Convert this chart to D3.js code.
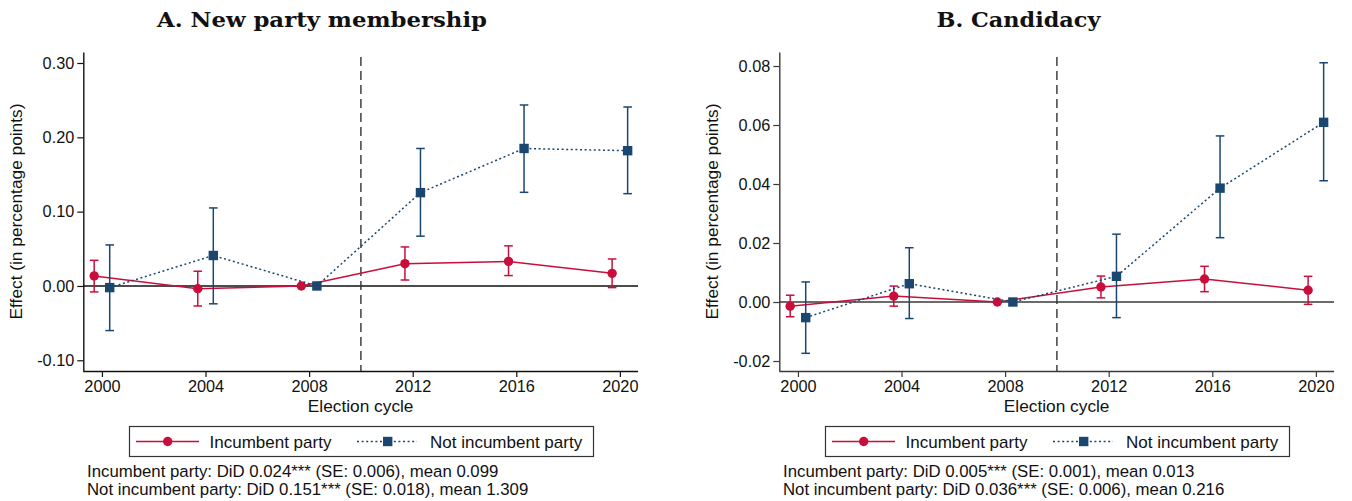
<!DOCTYPE html>
<html>
<head>
<meta charset="utf-8">
<script src="https://cdn.jsdelivr.net/npm/d3@7"></script>
<style>
  html, body { margin: 0; padding: 0; background: #fff; }
  svg { display: block; }
</style>
</head>
<body>
<script>
// Event-study estimates by election cycle, with 95% confidence bounds.
const years = [2000, 2004, 2008, 2012, 2016, 2020];

// Panel A: new party membership
const memberIncEst = [0.0135, -0.0036, 0, 0.030, 0.033, 0.0170];
const memberIncLo  = [-0.0080, -0.0269, null, 0.0080, 0.0140, -0.0022];
const memberIncHi  = [0.0345, 0.0198, null, 0.0525, 0.0540, 0.0363];
const memberNotEst = [-0.0022, 0.0410, 0, 0.1256, 0.1850, 0.1820];
const memberNotLo  = [-0.0600, -0.0240, null, 0.0670, 0.1260, 0.1242];
const memberNotHi  = [0.0552, 0.1050, null, 0.1850, 0.2435, 0.2408];
const memberTicks  = [-0.10, 0.00, 0.10, 0.20, 0.30];

// Panel B: candidacy
const candIncEst = [-0.0014, 0.0020, 0, 0.0051, 0.0078, 0.0040];
const candIncLo  = [-0.0050, -0.0014, null, 0.0014, 0.0035, -0.0008];
const candIncHi  = [0.0023, 0.0054, null, 0.0088, 0.0121, 0.0087];
const candNotEst = [-0.0053, 0.0062, 0, 0.0087, 0.0386, 0.0609];
const candNotLo  = [-0.0174, -0.0056, null, -0.0053, 0.0218, 0.0411];
const candNotHi  = [0.0068, 0.0184, null, 0.0230, 0.0563, 0.0811];
const candTicks  = [-0.02, 0.00, 0.02, 0.04, 0.06, 0.08];

const seriesNames = ["Incumbent party", "Not incumbent party"];
const memberNotes = [
  "Incumbent party: DiD 0.024*** (SE: 0.006), mean 0.099",
  "Not incumbent party: DiD 0.151*** (SE: 0.018), mean 1.309"
];
const candNotes = [
  "Incumbent party: DiD 0.005*** (SE: 0.001), mean 0.013",
  "Not incumbent party: DiD 0.036*** (SE: 0.006), mean 0.216"
];

const RED = "#c80f3c";
const BLUE = "#1a476f";
const SANS = "'Liberation Sans', Arial, sans-serif";
const SERIF = "'DejaVu Serif', serif";

const svg = d3.select("body").append("svg")
  .attr("width", 1352).attr("height", 501);
svg.append("rect").attr("width", 1352).attr("height", 501).attr("fill", "#fff");

function drawPanel(opt) {
  const g = svg.append("g").attr("transform", `translate(${opt.dx},0)`);
  const left = 83.3, right = 638, top = 52, bottom = 371;
  const axisColor = opt.axisColor;

  const x = d3.scaleLinear().domain([1999.28, 2020.7]).range([left, right]);
  const y = d3.scaleLinear().domain(opt.yDomain).range([bottom, top]);

  // title
  g.append("text")
    .attr("x", opt.titleX).attr("y", 27)
    .attr("text-anchor", "middle")
    .attr("font-family", SERIF).attr("font-weight", "bold")
    .attr("font-size", 21)
    .attr("textLength", opt.titleWidth).attr("lengthAdjust", "spacingAndGlyphs")
    .attr("fill", "#111")
    .text(opt.title);

  // axes
  const yAxis = g.append("g").attr("transform", `translate(${left},0)`)
    .call(d3.axisLeft(y).tickValues(opt.ticks).tickSize(6).tickSizeOuter(0)
      .tickPadding(3).tickFormat(d => d.toFixed(2)));
  const xAxis = g.append("g").attr("transform", `translate(0,${bottom})`)
    .call(d3.axisBottom(x).tickValues(years).tickSize(6).tickSizeOuter(0)
      .tickPadding(3).tickFormat(d3.format("d")));
  [yAxis, xAxis].forEach(a => {
    a.select(".domain").attr("stroke", axisColor).attr("stroke-width", 1.4);
    a.selectAll(".tick line").attr("stroke", axisColor).attr("stroke-width", 1.2);
    a.selectAll(".tick text").attr("font-family", SANS).attr("font-size", 16.3).attr("fill", "#111");
  });
  // extend x axis line to the y axis
  xAxis.select(".domain").attr("d", `M${left},0.5H${right}`);

  // axis titles
  g.append("text")
    .attr("transform", `translate(22,${(top + bottom) / 2}) rotate(-90)`)
    .attr("text-anchor", "middle")
    .attr("font-family", SANS).attr("font-size", 17.3).attr("fill", "#111")
    .text("Effect (in percentage points)");
  g.append("text")
    .attr("x", (left + right) / 2).attr("y", 412)
    .attr("text-anchor", "middle")
    .attr("font-family", SANS).attr("font-size", 17.3).attr("fill", "#111")
    .text("Election cycle");

  // zero reference line
  g.append("line")
    .attr("x1", left).attr("x2", right)
    .attr("y1", y(0)).attr("y2", y(0))
    .attr("stroke", axisColor).attr("stroke-width", 1.5);

  // treatment onset
  g.append("line")
    .attr("x1", x(2010)).attr("x2", x(2010))
    .attr("y1", 57).attr("y2", bottom)
    .attr("stroke", "#333").attr("stroke-width", 1.4)
    .attr("stroke-dasharray", "9,5");

  const series = [
    { est: opt.incEst, lo: opt.incLo, hi: opt.incHi, shift: -0.3, color: RED, dash: null, marker: "circle" },
    { est: opt.notEst, lo: opt.notLo, hi: opt.notHi, shift: 0.3, color: BLUE, dash: "2,2.6", marker: "square" }
  ];

  series.forEach(s => {
    const pts = years.map((yr, i) => ({ x: x(yr + s.shift), est: s.est[i], lo: s.lo[i], hi: s.hi[i] }));
    const ci = pts.filter(p => p.lo !== null);
    const cg = g.append("g").attr("stroke", s.color).attr("stroke-width", 1.5).attr("fill", "none");
    cg.selectAll("line.v").data(ci).join("line")
      .attr("x1", d => d.x).attr("x2", d => d.x)
      .attr("y1", d => y(d.lo)).attr("y2", d => y(d.hi));
    cg.selectAll("line.t").data(ci).join("line")
      .attr("x1", d => d.x - 4.3).attr("x2", d => d.x + 4.3)
      .attr("y1", d => y(d.hi)).attr("y2", d => y(d.hi));
    cg.selectAll("line.b").data(ci).join("line")
      .attr("x1", d => d.x - 4.3).attr("x2", d => d.x + 4.3)
      .attr("y1", d => y(d.lo)).attr("y2", d => y(d.lo));

    g.append("path").datum(pts)
      .attr("fill", "none").attr("stroke", s.color).attr("stroke-width", 1.5)
      .attr("stroke-dasharray", s.dash)
      .attr("d", d3.line().x(d => d.x).y(d => y(d.est)));

    if (s.marker === "circle") {
      g.selectAll(null).data(pts).join("circle")
        .attr("cx", d => d.x).attr("cy", d => y(d.est)).attr("r", 4.7)
        .attr("fill", s.color);
    } else {
      g.selectAll(null).data(pts).join("rect")
        .attr("x", d => d.x - 4.7).attr("y", d => y(d.est) - 4.7)
        .attr("width", 9.4).attr("height", 9.4)
        .attr("fill", s.color);
    }
  });

  // legend
  const lg = g.append("g");
  lg.append("rect").attr("x", 129.5).attr("y", 426.5).attr("width", 464).attr("height", 30)
    .attr("fill", "#fff").attr("stroke", "#333").attr("stroke-width", 1.2);
  lg.append("line").attr("x1", 136).attr("x2", 199).attr("y1", 441.5).attr("y2", 441.5)
    .attr("stroke", RED).attr("stroke-width", 1.5);
  lg.append("circle").attr("cx", 167.7).attr("cy", 441.5).attr("r", 4.7).attr("fill", RED);
  lg.append("text").attr("x", 209.5).attr("y", 447.5)
    .attr("font-family", SANS).attr("font-size", 17).attr("fill", "#111").text(seriesNames[0]);
  lg.append("line").attr("x1", 357).attr("x2", 417).attr("y1", 441.5).attr("y2", 441.5)
    .attr("stroke", BLUE).attr("stroke-width", 1.5).attr("stroke-dasharray", "2,2.6");
  lg.append("rect").attr("x", 383).attr("y", 436.8).attr("width", 9.4).attr("height", 9.4).attr("fill", BLUE);
  lg.append("text").attr("x", 430).attr("y", 447.5)
    .attr("font-family", SANS).attr("font-size", 17).attr("fill", "#111").text(seriesNames[1]);

  // notes
  g.selectAll(null).data(opt.notes).join("text")
    .attr("x", 87).attr("y", (d, i) => 476.5 + i * 18.5)
    .attr("font-family", SANS).attr("font-size", 16.8).attr("fill", "#111")
    .text(d => d);
}

drawPanel({
  dx: 0, title: "A. New party membership", titleX: 322, titleWidth: 330,
  yDomain: [-0.1144, 0.3148], ticks: memberTicks, axisColor: "#111",
  incEst: memberIncEst, incLo: memberIncLo, incHi: memberIncHi,
  notEst: memberNotEst, notLo: memberNotLo, notHi: memberNotHi,
  notes: memberNotes
});
drawPanel({
  dx: 696, title: "B. Candidacy", titleX: 322.5, titleWidth: 164,
  yDomain: [-0.02339, 0.08475], ticks: candTicks, axisColor: "#3a3a3a",
  incEst: candIncEst, incLo: candIncLo, incHi: candIncHi,
  notEst: candNotEst, notLo: candNotLo, notHi: candNotHi,
  notes: candNotes
});
</script>
</body>
</html>
